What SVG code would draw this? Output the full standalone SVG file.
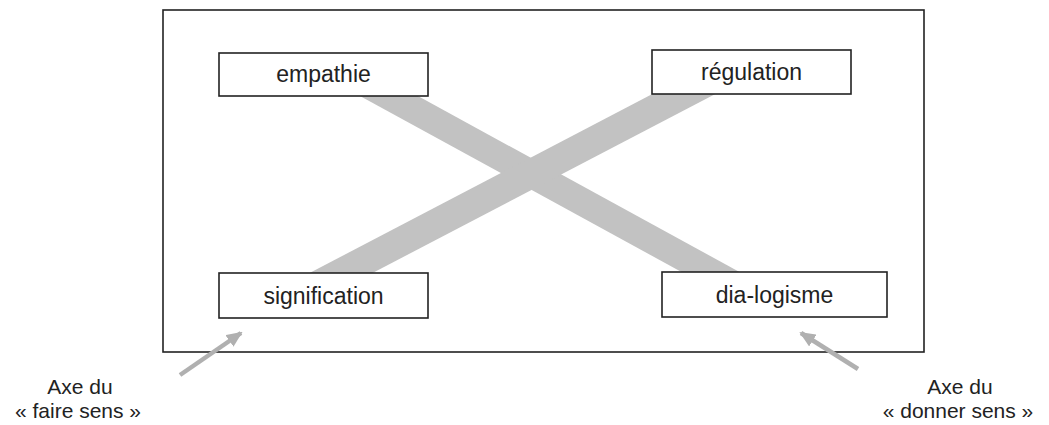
<svg xmlns="http://www.w3.org/2000/svg" width="1049" height="425" viewBox="0 0 1049 425">
<defs>
<style>
.frame{fill:#fff;stroke:#222;stroke-width:1.6}
.box{fill:#fff;stroke:#222;stroke-width:1.6}
.band{fill:#c2c2c2}
.lbl{font-family:"Liberation Sans",Arial,sans-serif;font-size:23px;fill:#222;text-anchor:middle}
.cap{font-family:"Liberation Sans",Arial,sans-serif;font-size:21px;fill:#222;text-anchor:middle}
.arr{stroke:#b0b0b0;stroke-width:4.5;fill:none}
</style>
<marker id="ah" markerWidth="16" markerHeight="14" refX="14" refY="7" orient="auto" markerUnits="userSpaceOnUse">
<path d="M0,0 L16,7 L0,14 Z" fill="#b0b0b0"/>
</marker>
</defs>
<rect width="1049" height="425" fill="#fff"/>
<rect class="frame" x="163" y="10" width="761" height="342"/>
<g id="connectors">
<polygon class="band" points="349,90 407,90 745,275 687,275"/>
<polygon class="band" points="300,278 660,90 723,90 363,278"/>
<line class="arr" x1="180" y1="375" x2="241" y2="333" marker-end="url(#ah)"/>
<line class="arr" x1="858" y1="369" x2="801" y2="333" marker-end="url(#ah)"/>
</g>
<g id="empathie">
<rect class="box" x="219" y="53" width="209" height="43"/>
<text class="lbl" x="323.5" y="82">empathie</text>
</g>
<g id="regulation">
<rect class="box" x="652" y="50" width="199" height="44"/>
<text class="lbl" x="751.5" y="80">régulation</text>
</g>
<g id="signification">
<rect class="box" x="219" y="273" width="209" height="45"/>
<text class="lbl" x="323.5" y="304">signification</text>
</g>
<g id="dialogisme">
<rect class="box" x="662" y="272" width="225" height="45"/>
<text class="lbl" x="774.5" y="303">dia-logisme</text>
</g>
<g id="axe-faire">
<text class="cap" x="80" y="394">Axe du</text>
<text class="cap" x="78" y="418">« faire sens »</text>
</g>
<g id="axe-donner">
<text class="cap" x="960" y="394">Axe du</text>
<text class="cap" x="958" y="418">« donner sens »</text>
</g>
</svg>
